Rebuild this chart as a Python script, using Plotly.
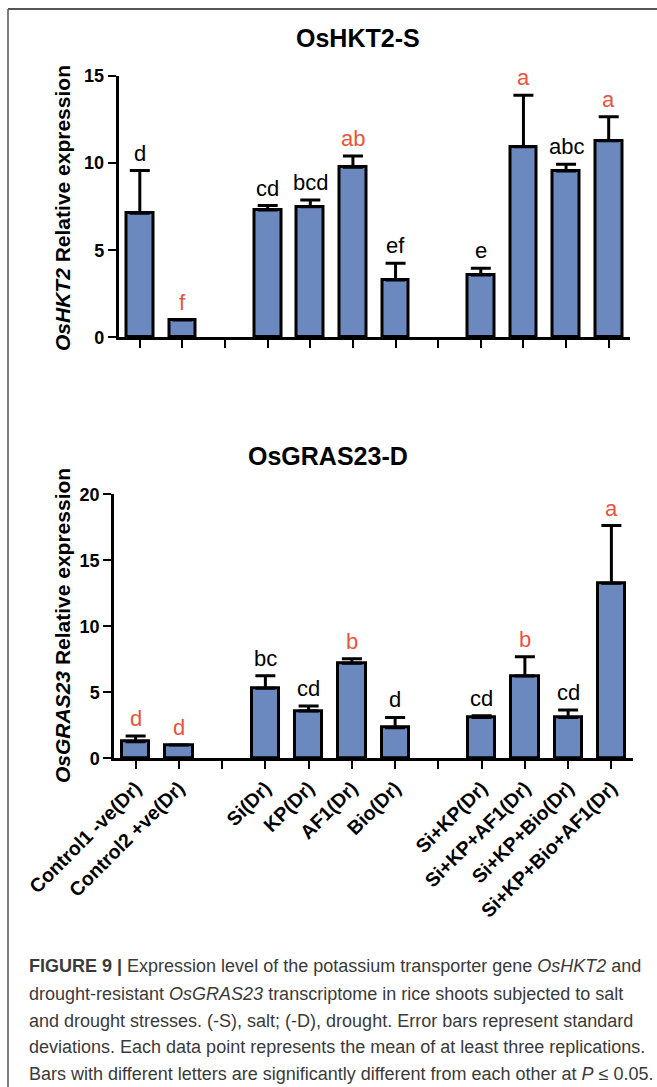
import plotly.graph_objects as go

# ---------------- data ----------------
categories = ["Control1 -ve(Dr)", "Control2 +ve(Dr)", "Si(Dr)", "KP(Dr)", "AF1(Dr)", "Bio(Dr)",
              "Si+KP(Dr)", "Si+KP+AF1(Dr)", "Si+KP+Bio(Dr)", "Si+KP+Bio+AF1(Dr)"]
slots = [0, 1, 3, 4, 5, 6, 8, 9, 10, 11]   # category slots (gaps at 2 and 7)
all_slots = list(range(12))

hkt2_mean = [7.12, 1.0, 7.31, 7.5, 9.76, 3.29, 3.58, 10.94, 9.55, 11.29]
hkt2_sd = [2.45, 0.0, 0.25, 0.38, 0.65, 0.96, 0.38, 2.95, 0.38, 1.37]
hkt2_letters = ["d", "f", "cd", "bcd", "ab", "ef", "e", "a", "abc", "a"]
hkt2_red = [False, True, False, False, True, False, False, True, False, True]

gras_mean = [1.26, 1.01, 5.3, 3.59, 7.2, 2.32, 3.1, 6.24, 3.1, 13.26]
gras_sd = [0.43, 0.0, 0.96, 0.37, 0.35, 0.78, 0.13, 1.46, 0.56, 4.37]
gras_letters = ["d", "d", "bc", "cd", "b", "d", "cd", "b", "cd", "a"]
gras_red = [True, True, False, False, True, False, False, True, False, True]

hkt2_ticks = [0, 5, 10, 15]
gras_ticks = [0, 5, 10, 15, 20]

caption_lines = [
    "<b>FIGURE 9 |</b> Expression level of the potassium transporter gene <i>OsHKT2</i> and",
    "drought-resistant <i>OsGRAS23</i> transcriptome in rice shoots subjected to salt",
    "and drought stresses. (-S), salt; (-D), drought. Error bars represent standard",
    "deviations. Each data point represents the mean of at least three replications.",
    "Bars with different letters are significantly different from each other at <i>P</i> ≤ 0.05.",
]

# ---------------- styling ----------------
W, H = 657, 1087
FONT = "Liberation Sans, Arial, sans-serif"
BAR = "#6b88bf"
RED = "#e8553d"

def px_x(p):
    return p / W

def px_y(p):
    return 1 - p / H

fig = go.Figure()

def add_panel(mean, sd, xa, ya):
    fig.add_trace(go.Bar(
        x=slots, y=mean, width=0.63,
        marker=dict(color=BAR, line=dict(color="black", width=3)),
        error_y=dict(type="data", symmetric=False, array=sd, arrayminus=[0] * len(sd),
                     color="black", thickness=3, width=10),
        xaxis=xa, yaxis=ya, showlegend=False,
    ))

add_panel(hkt2_mean, hkt2_sd, "x", "y")
add_panel(gras_mean, gras_sd, "x2", "y2")

axis_common = dict(showline=True, linecolor="black", linewidth=2.5, ticks="outside",
                   tickcolor="black", tickwidth=2, showgrid=False, zeroline=False,
                   automargin=False)

labels2 = [""] * 12
for s, c in zip(slots, categories):
    labels2[s] = c

fig.update_layout(
    width=W, height=H, margin=dict(l=0, r=0, t=0, b=0, autoexpand=False),
    paper_bgcolor="white", plot_bgcolor="white",
    font=dict(family=FONT, color="black"),
    bargap=0,
    xaxis=dict(domain=[px_x(118.5), px_x(630)], range=[-0.5, 11.5], tickvals=all_slots,
               ticktext=[""] * 12, ticklen=8, anchor="y", **axis_common),
    yaxis=dict(domain=[px_y(337.3), px_y(76)], range=[0, 15], tickvals=hkt2_ticks, ticklen=8,
               tickfont=dict(size=18, weight="bold"), anchor="x", **axis_common),
    xaxis2=dict(domain=[px_x(114), px_x(633)], range=[-0.5, 11.5], tickvals=all_slots,
                ticktext=labels2, tickangle=-45, tickfont=dict(size=19.5, weight="bold"),
                ticklen=8, anchor="y2", **axis_common),
    yaxis2=dict(domain=[px_y(758.3), px_y(494.3)], range=[0, 20], tickvals=gras_ticks, ticklen=8,
                tickfont=dict(size=18, weight="bold"), anchor="x2", **axis_common),
)

ann = []
# significance letters
for mean, sd, letters, red, xr, yr in [
    (hkt2_mean, hkt2_sd, hkt2_letters, hkt2_red, "x", "y"),
    (gras_mean, gras_sd, gras_letters, gras_red, "x2", "y2"),
]:
    for s, m, e, l, r in zip(slots, mean, sd, letters, red):
        ann.append(dict(x=s, y=m + e, xref=xr, yref=yr, text=l, showarrow=False,
                        xanchor="center", yanchor="bottom", yshift=3,
                        font=dict(size=22, color=RED if r else "black", family=FONT)))

# panel titles
ann.append(dict(x=px_x(358), y=px_y(38), xref="paper", yref="paper", text="OsHKT2-S",
                xanchor="center", yanchor="middle",
                showarrow=False, font=dict(size=25, weight="bold", family=FONT)))
ann.append(dict(x=px_x(328), y=px_y(456), xref="paper", yref="paper", text="OsGRAS23-D",
                xanchor="center", yanchor="middle",
                showarrow=False, font=dict(size=25, weight="bold", family=FONT)))

# y-axis titles
ann.append(dict(x=px_x(62), y=px_y(208), xref="paper", yref="paper",
                text="<i>OsHKT2</i> Relative expression", textangle=-90,
                xanchor="center", yanchor="middle",
                showarrow=False, font=dict(size=21, weight="bold", family=FONT)))
ann.append(dict(x=px_x(62), y=px_y(626), xref="paper", yref="paper",
                text="<i>OsGRAS23</i> Relative expression", textangle=-90,
                xanchor="center", yanchor="middle",
                showarrow=False, font=dict(size=21, weight="bold", family=FONT)))

# caption
cap_y = [966, 993.5, 1020.5, 1047, 1074]
for t, yy in zip(caption_lines, cap_y):
    ann.append(dict(x=px_x(27), y=px_y(yy), xref="paper", yref="paper", text=t,
                    xanchor="left", yanchor="middle", showarrow=False,
                    font=dict(size=18, color="#3a3a3a", family=FONT)))

fig.update_layout(annotations=ann)

# figure frame
fig.update_layout(shapes=[
    dict(type="line", xref="paper", yref="paper", x0=px_x(8), x1=1, y0=px_y(9), y1=px_y(9),
         line=dict(color="#555555", width=2)),
    dict(type="line", xref="paper", yref="paper", x0=px_x(8), x1=px_x(8), y0=px_y(9), y1=0,
         line=dict(color="#555555", width=1.5)),
])

fig.write_html("out.html", config={"displayModeBar": False},
               post_script="document.body.style.margin='0px';")
